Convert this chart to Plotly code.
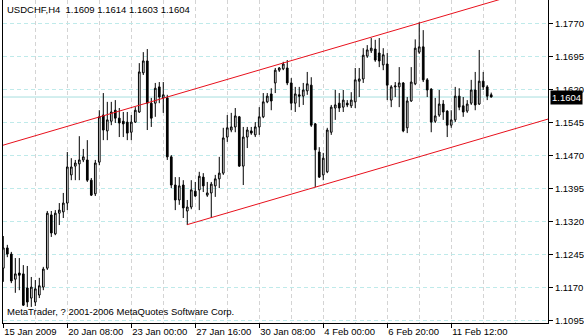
import plotly.graph_objects as go

header_text = "USDCHF,H4  1.1609 1.1614 1.1603 1.1604"
copyright_text = "MetaTrader, ? 2001-2006 MetaQuotes Software Corp."

# OHLC per H4 bar (bar index 0 = 15 Jan 2009 16:00)
opens = [1.1215, 1.1261, 1.1247, 1.1190, 1.1204, 1.1202, 1.1170, 1.1147, 1.1138, 1.1154,
         1.1172, 1.1215, 1.1336, 1.1293, 1.1340, 1.1343, 1.1363, 1.1427, 1.1447, 1.1452,
         1.1461, 1.1461, 1.1415, 1.1384, 1.1456, 1.1563, 1.1527, 1.1549, 1.1574, 1.1556,
         1.1549, 1.1547, 1.1524, 1.1547, 1.1570, 1.1659, 1.1686, 1.1590, 1.1590, 1.1627,
         1.1602, 1.1602, 1.1468, 1.1404, 1.1370, 1.1404, 1.1345, 1.1354, 1.1390, 1.1393,
         1.1422, 1.1381, 1.1386, 1.1402, 1.1418, 1.1431, 1.1513, 1.1529, 1.1536, 1.1559,
         1.1447, 1.1513, 1.1527, 1.1518, 1.1536, 1.1559, 1.1593, 1.1611, 1.1636, 1.1665,
         1.1668, 1.1670, 1.1636, 1.1590, 1.1609, 1.1606, 1.1618, 1.1631, 1.1543, 1.1479,
         1.1427, 1.1434, 1.1524, 1.1579, 1.1590, 1.1581, 1.1590, 1.1584, 1.1593, 1.1640,
         1.1645, 1.1697, 1.1709, 1.1713, 1.1704, 1.1677, 1.1679, 1.1597, 1.1627, 1.1627,
         1.1636, 1.1534, 1.1595, 1.1634, 1.1706, 1.1718, 1.1643, 1.1622, 1.1549, 1.1563,
         1.1588, 1.1572, 1.1540, 1.1552, 1.1606, 1.1584, 1.1572, 1.1590, 1.1620, 1.1588,
         1.1640, 1.1627, 1.1609]
highs = [1.1288, 1.1268, 1.1252, 1.1238, 1.1238, 1.1222, 1.1220, 1.1195, 1.1188, 1.1193,
         1.1218, 1.1345, 1.1345, 1.1347, 1.1363, 1.1386, 1.1479, 1.1465, 1.1461, 1.1515,
         1.1486, 1.1506, 1.1420, 1.1461, 1.1574, 1.1613, 1.1593, 1.1593, 1.1597, 1.1579,
         1.1570, 1.1570, 1.1563, 1.1581, 1.1681, 1.1706, 1.1713, 1.1602, 1.1636, 1.1638,
         1.1638, 1.1609, 1.1472, 1.1422, 1.1422, 1.1415, 1.1370, 1.1415, 1.1411, 1.1434,
         1.1431, 1.1411, 1.1411, 1.1427, 1.1468, 1.1534, 1.1563, 1.1568, 1.1579, 1.1561,
         1.1536, 1.1536, 1.1536, 1.1547, 1.1581, 1.1613, 1.1613, 1.1624, 1.1670, 1.1672,
         1.1684, 1.1688, 1.1647, 1.1627, 1.1627, 1.1636, 1.1661, 1.1649, 1.1545, 1.1490,
         1.1477, 1.1534, 1.1586, 1.1620, 1.1613, 1.1620, 1.1597, 1.1615, 1.1670, 1.1670,
         1.1715, 1.1722, 1.1738, 1.1734, 1.1738, 1.1715, 1.1704, 1.1631, 1.1638, 1.1672,
         1.1638, 1.1604, 1.1672, 1.1735, 1.1774, 1.1756, 1.1647, 1.1624, 1.1602, 1.1620,
         1.1597, 1.1574, 1.1574, 1.1627, 1.1624, 1.1604, 1.1597, 1.1643, 1.1661, 1.1711,
         1.1661, 1.1631, 1.1614]
lows = [1.1184, 1.1240, 1.1181, 1.1159, 1.1165, 1.1129, 1.1127, 1.1127, 1.1129, 1.1147,
        1.1165, 1.1211, 1.1286, 1.1290, 1.1313, 1.1329, 1.1347, 1.1415, 1.1415, 1.1415,
        1.1456, 1.1411, 1.1379, 1.1379, 1.1449, 1.1506, 1.1506, 1.1540, 1.1545, 1.1513,
        1.1513, 1.1506, 1.1506, 1.1545, 1.1568, 1.1654, 1.1529, 1.1536, 1.1559, 1.1590,
        1.1568, 1.1461, 1.1397, 1.1347, 1.1359, 1.1329, 1.1313, 1.1349, 1.1377, 1.1347,
        1.1388, 1.1377, 1.1329, 1.1377, 1.1397, 1.1427, 1.1502, 1.1524, 1.1524, 1.1445,
        1.1404, 1.1488, 1.1518, 1.1513, 1.1518, 1.1556, 1.1590, 1.1574, 1.1613, 1.1661,
        1.1665, 1.1631, 1.1574, 1.1570, 1.1581, 1.1586, 1.1609, 1.1536, 1.1399, 1.1420,
        1.1415, 1.1431, 1.1518, 1.1552, 1.1570, 1.1570, 1.1581, 1.1579, 1.1579, 1.1604,
        1.1636, 1.1693, 1.1704, 1.1684, 1.1672, 1.1665, 1.1597, 1.1581, 1.1604, 1.1581,
        1.1524, 1.1522, 1.1593, 1.1631, 1.1702, 1.1638, 1.1604, 1.1524, 1.1545, 1.1559,
        1.1552, 1.1513, 1.1534, 1.1547, 1.1574, 1.1559, 1.1568, 1.1586, 1.1574, 1.1586,
        1.1620, 1.1597, 1.1603]
closes = [1.1261, 1.1247, 1.1186, 1.1202, 1.1199, 1.1131, 1.1138, 1.1172, 1.1168, 1.1175,
          1.1213, 1.1340, 1.1295, 1.1340, 1.1347, 1.1363, 1.1445, 1.1445, 1.1454, 1.1461,
          1.1468, 1.1415, 1.1381, 1.1454, 1.1559, 1.1529, 1.1552, 1.1570, 1.1556, 1.1545,
          1.1543, 1.1522, 1.1547, 1.1574, 1.1661, 1.1686, 1.1590, 1.1556, 1.1624, 1.1604,
          1.1609, 1.1468, 1.1404, 1.1370, 1.1402, 1.1352, 1.1354, 1.1393, 1.1379, 1.1424,
          1.1402, 1.1386, 1.1406, 1.1418, 1.1431, 1.1511, 1.1534, 1.1536, 1.1561, 1.1447,
          1.1513, 1.1529, 1.1522, 1.1536, 1.1559, 1.1593, 1.1606, 1.1595, 1.1665, 1.1670,
          1.1679, 1.1636, 1.1590, 1.1611, 1.1606, 1.1620, 1.1634, 1.1540, 1.1484, 1.1422,
          1.1465, 1.1529, 1.1581, 1.1586, 1.1579, 1.1597, 1.1586, 1.1597, 1.1643, 1.1645,
          1.1699, 1.1711, 1.1715, 1.1688, 1.1686, 1.1700, 1.1631, 1.1627, 1.1629, 1.1636,
          1.1527, 1.1595, 1.1638, 1.1715, 1.1718, 1.1643, 1.1620, 1.1547, 1.1561, 1.1588,
          1.1570, 1.1540, 1.1552, 1.1606, 1.1581, 1.1570, 1.1588, 1.1620, 1.1586, 1.1640,
          1.1627, 1.1606, 1.1604]
bars = list(range(len(opens)))

tick_bars = [0, 16, 32, 48, 64, 80, 96, 112]
tick_labels = ["15 Jan 2009", "20 Jan 08:00", "23 Jan 00:00", "27 Jan 16:00",
               "30 Jan 08:00", "4 Feb 00:00", "6 Feb 20:00", "11 Feb 12:00"]
price_ticks = [1.1095, 1.1170, 1.1245, 1.1320, 1.1395, 1.1470, 1.1545, 1.1620, 1.1695, 1.1770]
last_price = 1.1604

upper_channel_bars = [-1, 125]
upper_channel_prices = [1.1492, 1.1828]
lower_channel_bars = [46, 140]
lower_channel_prices = [1.1314, 1.1564]

FONT = "Liberation Sans"
HGRID = "#bfeaea"
VGRID = "#d4d4d4"

fig = go.Figure()
fig.add_trace(go.Candlestick(
    x=bars, open=opens, high=highs, low=lows, close=closes,
    increasing=dict(line=dict(color="black", width=1), fillcolor="white"),
    decreasing=dict(line=dict(color="black", width=1), fillcolor="black"),
    whiskerwidth=0, showlegend=False, hoverinfo="skip"))
fig.add_trace(go.Scatter(x=upper_channel_bars, y=upper_channel_prices, mode="lines",
                         line=dict(color="#e8101c", width=1), showlegend=False, hoverinfo="skip"))
fig.add_trace(go.Scatter(x=lower_channel_bars, y=lower_channel_prices, mode="lines",
                         line=dict(color="#e8101c", width=1), showlegend=False, hoverinfo="skip"))

fig.update_layout(
    width=584, height=336,
    margin=dict(l=3, r=36, t=0, b=13),
    paper_bgcolor="white", plot_bgcolor="white",
    boxgap=0.4,
    showlegend=False,
    font=dict(family=FONT, size=9.5, color="black"),
    xaxis=dict(
        range=[-0.08, 136.2], tickmode="array", tickvals=tick_bars, ticktext=tick_labels,
        ticks="outside", ticklen=4, tickcolor="black", tickwidth=1,
        ticklabelposition="outside right",
        showgrid=True, gridcolor=VGRID, griddash="4px,3px", gridwidth=1,
        minor=dict(tickmode="linear", tick0=0, dtick=8, showgrid=True,
                   gridcolor=VGRID, griddash="4px,3px", gridwidth=1, ticks=""),
        showline=True, linecolor="black", linewidth=1, zeroline=False,
        rangeslider=dict(visible=False), automargin=False,
        tickfont=dict(family=FONT, size=9.5, color="black")),
    yaxis=dict(
        side="right", range=[1.10904, 1.18245], tickmode="array", tickvals=price_ticks,
        ticktext=[f"{v:.4f}" for v in price_ticks],
        ticks="outside", ticklen=4, tickcolor="black", tickwidth=1,
        showgrid=True, gridcolor=HGRID, griddash="4px,3px", gridwidth=1,
        showline=True, mirror=True, linecolor="black", linewidth=1, zeroline=False,
        automargin=False, tickfont=dict(family=FONT, size=9.5, color="black")),
    shapes=[dict(type="line", xref="paper", x0=0, x1=1, yref="y", y0=last_price, y1=last_price,
                 line=dict(color="#a6dede", width=1), layer="below")],
    annotations=[
        dict(text=f"{last_price:.4f}", xref="paper", x=1, xshift=2, xanchor="left",
             yref="y", y=last_price, yanchor="middle", showarrow=False, bgcolor="black",
             borderpad=1, font=dict(family=FONT, size=9.5, color="white")),
        dict(text=header_text, xref="paper", x=0, xshift=2, xanchor="left",
             yref="paper", y=1, yanchor="top", yshift=-2, showarrow=False,
             font=dict(family=FONT, size=9.5, color="black")),
        dict(text=copyright_text, xref="paper", x=0, xshift=2, xanchor="left",
             yref="paper", y=0, yanchor="middle", yshift=12, showarrow=False,
             font=dict(family=FONT, size=9.5, color="black")),
    ],
)

fig.write_html("out.html")
